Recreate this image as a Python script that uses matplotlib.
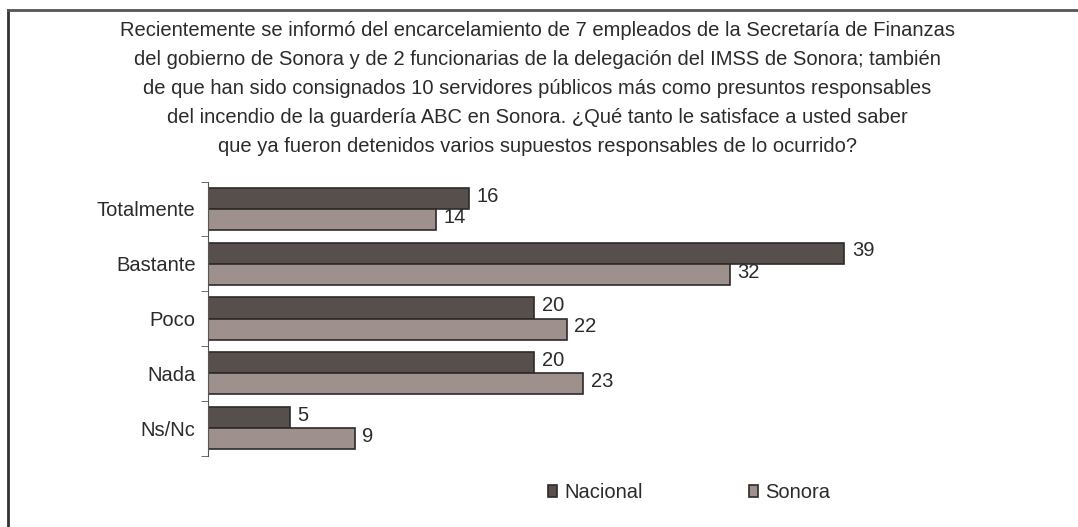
import numpy as np
import matplotlib.pyplot as plt
from matplotlib.lines import Line2D

categories = ["Totalmente", "Bastante", "Poco", "Nada", "Ns/Nc"]
nacional = [16, 39, 20, 20, 5]
sonora = [14, 32, 22, 23, 9]
series_names = ["Nacional", "Sonora"]

title = ("Recientemente se informó del encarcelamiento de 7 empleados de la Secretaría de Finanzas\n"
         "del gobierno de Sonora y de 2 funcionarias de la delegación del IMSS de Sonora; también\n"
         "de que han sido consignados 10 servidores públicos más como presuntos responsables\n"
         "del incendio de la guardería ABC en Sonora. ¿Qué tanto le satisface a usted saber\n"
         "que ya fueron detenidos varios supuestos responsables de lo ocurrido?")

plt.rcParams['font.family'] = ['Liberation Sans', 'DejaVu Sans']

W, H = 1078, 527
fs = 14.5
txt = "#2b2b2b"
fig = plt.figure(figsize=(W / 100, H / 100), dpi=100)
ax = fig.add_axes([208 / W, 1 - 455.5 / H, 816 / W, 274 / H])

c_nac = "#574f4c"
c_son = "#9e918d"
edge = "#2e2a29"

y = np.arange(len(categories))
h = 0.385
b1 = ax.barh(y - h / 2, nacional, height=h, color=c_nac, edgecolor=edge, linewidth=1.2, label=series_names[0])
b2 = ax.barh(y + h / 2, sonora, height=h, color=c_son, edgecolor=edge, linewidth=1.2, label=series_names[1])

for bars, vals in ((b1, nacional), (b2, sonora)):
    for bar, v in zip(bars, vals):
        ax.text(bar.get_width() + 0.45, bar.get_y() + bar.get_height() / 2 - 0.04, str(v),
                va="center", ha="left", fontsize=fs, color=txt)

ax.set_xlim(0, 50)
ax.set_ylim(len(categories) - 0.5, -0.5)
ax.set_yticks(y)
ax.set_yticklabels(categories, fontsize=fs, color=txt)
ax.set_yticks(np.arange(-0.5, len(categories)), minor=True)
ax.tick_params(axis="y", which="major", length=0, pad=9)
ax.tick_params(axis="y", which="minor", length=5, color="#555555", direction="out")
ax.set_xticks([])
for s in ("top", "right", "bottom"):
    ax.spines[s].set_visible(False)
ax.spines["left"].set_color("#555555")

fig.text(537 / W, 1 - 21 / H, title, ha="center", va="top", fontsize=fs,
         linespacing=1.66, color=txt)

ax.legend(loc="center", bbox_to_anchor=(689 / W, 1 - 493 / H), bbox_transform=fig.transFigure,
          ncol=2, frameon=False, fontsize=fs, handlelength=0.45, handleheight=0.55,
          handletextpad=0.35, columnspacing=5.25, labelcolor=txt)

fig.add_artist(Line2D([8 / W, 8 / W], [0, 1 - 10 / H], transform=fig.transFigure, color="#333333", lw=2))
fig.add_artist(Line2D([8 / W, 1], [1 - 10 / H, 1 - 10 / H], transform=fig.transFigure, color="#555555", lw=2))

fig.savefig("out.png", dpi=100)
